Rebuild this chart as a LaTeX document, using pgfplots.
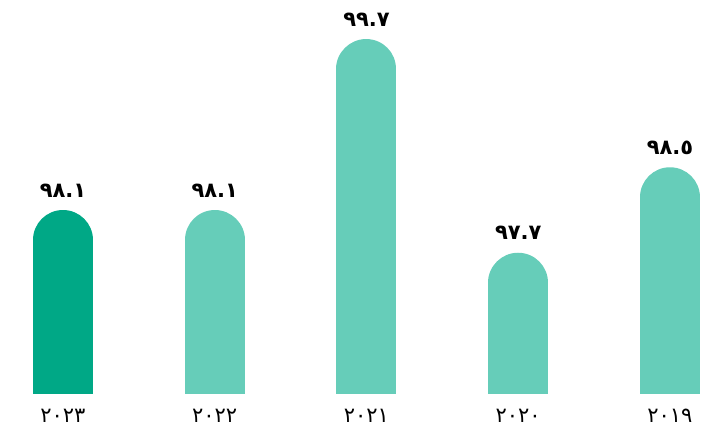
\documentclass[border=0pt]{standalone}
\usepackage{fontspec}
\setmainfont{DejaVu Sans}
\usepackage{pgfplots}
\pgfplotsset{compat=1.18}
\definecolor{darkteal}{HTML}{00A886}
\definecolor{lightteal}{HTML}{66CDB9}
\begin{document}
\begin{tikzpicture}
\begin{axis}[
  scale only axis, width=358.5pt, height=196.5pt,
  xmin=-0.415, xmax=4.31, ymin=96.668, ymax=100.346,
  axis line style={draw=none}, tick style={draw=none},
  ytick=\empty, xtick={0,...,4},
  xticklabels={٢٠٢٣,٢٠٢٢,٢٠٢١,٢٠٢٠,٢٠١٩},
  xticklabel style={anchor=base, inner sep=0pt, yshift=-14.5pt, font=\fontsize{10.5}{12}\selectfont},
  point meta=explicit symbolic,
  % round caps: the top cap gives the rounded bar, the bottom one is clipped away
  every axis plot/.append style={ycomb, line width=30pt, line cap=round},
  every node near coord/.append style={anchor=base, inner sep=0pt, yshift=21.5pt, font=\fontsize{10.5}{12}\selectfont\bfseries, text=black},
]
\addplot[draw=darkteal, nodes near coords] coordinates {(0,98.1) [٩٨.١]};
\addplot[draw=lightteal, nodes near coords] coordinates {
  (1,98.1) [٩٨.١] (2,99.7) [٩٩.٧] (3,97.7) [٩٧.٧] (4,98.5) [٩٨.٥]
};
\end{axis}
\pgfresetboundingbox
\path[use as bounding box] (current axis.north west) rectangle ([yshift=-17.5pt]current axis.south east);
\end{tikzpicture}
\end{document}
